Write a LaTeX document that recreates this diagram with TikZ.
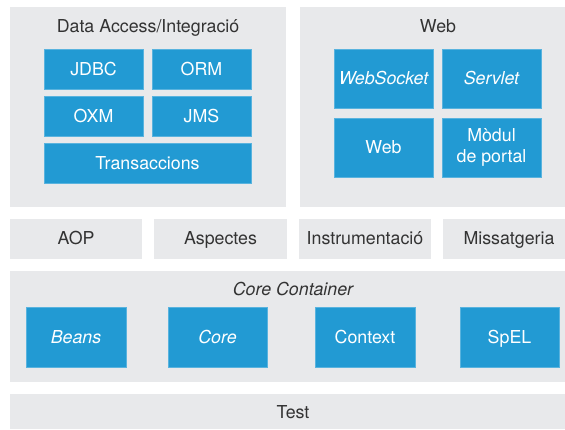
\documentclass[tikz,border=0pt]{standalone}
\usepackage{fontspec}
\setmainfont{TeX Gyre Heros}
\usetikzlibrary{positioning}
\definecolor{springblue}{HTML}{229AD3}
\definecolor{panelgray}{HTML}{E8E9EB}
\definecolor{labelgray}{HTML}{333333}
\tikzset{
  panel/.style={fill=panelgray},
  paneltext/.style={text=labelgray,inner sep=0pt,text height=12.6pt,text depth=0pt},
  module/.style={fill=springblue,draw=springblue!75!white,line width=0.6pt,text=white,
    align=center,inner sep=0pt,minimum width=99pt,minimum height=40pt,
    text height=12.6pt,text depth=0pt},
}

\begin{document}
\begin{tikzpicture}[x=1pt,y=-1pt,font=\fontsize{17.8}{20.5}\selectfont]
  \useasboundingbox (0,0) rectangle (565,429);
  % Data Access / Web
  \fill[panel] (10,7) rectangle (286,207);
  \node[paneltext] (datatitle) at (148,26) {Data Access/Integració};
  \node[module] (jdbc) at (93.5,69) {JDBC};
  \node[module] (orm) at (201.5,69) {ORM};
  \node[module] (oxm) at (93.5,116) {OXM};
  \node[module] (jms) at (201.5,116) {JMS};
  \node[module,minimum width=207pt] (trans) at (147.5,163) {Transaccions};
  \fill[panel] (300,7) rectangle (565,207);
  \node[paneltext] (webtitle) at (438,26) {Web};
  \node[module,minimum height=59pt] (socket) at (383.5,78.5) {\itshape WebSocket};
  \node[module,minimum height=59pt] (servlet) at (491.5,78.5) {\itshape Servlet};
  \node[module,minimum height=59pt] (webmod) at (383.5,147.5) {Web};
  \node[module,minimum height=59pt,text height={},text depth={}] (portal) at (491.5,147.5) {Mòdul\\de portal};
  % fila del mig
  \fill[panel] (10,219) rectangle (142,259);
  \node[paneltext] (aop) at (76,238.5) {AOP};
  \fill[panel] (154,219) rectangle (287,259);
  \node[paneltext] (aspects) at (220.5,238.5) {Aspectes};
  \fill[panel] (299,219) rectangle (431,259);
  \node[paneltext] (instr) at (365,238.5) {Instrumentació};
  \fill[panel] (443,219) rectangle (565,259);
  \node[paneltext] (msg) at (509,238.5) {Missatgeria};
  % Core Container
  \fill[panel] (10,271) rectangle (565,382);
  \node[paneltext] (coretitle) at (293,289) {\itshape Core Container};
  \node[module,minimum width=100pt,minimum height=60pt] (beans) at (76,337) {\itshape Beans};
  \node[module,minimum height=60pt] (core) at (217.5,337) {\itshape Core};
  \node[module,minimum width=100pt,minimum height=60pt] (context) at (365,337) {Context};
  \node[module,minimum height=60pt] (spel) at (509.5,337) {SpEL};
  % Test
  \fill[panel] (10,394) rectangle (565,429);
  \node[paneltext] (test) at (293,412.5) {Test};
\end{tikzpicture}
\end{document}
